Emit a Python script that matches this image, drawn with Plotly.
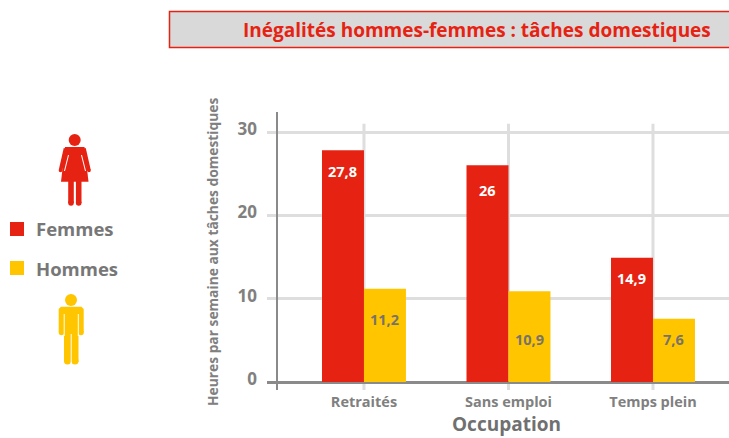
import plotly.graph_objects as go

categories = ["Retraités", "Sans emploi", "Temps plein"]
femmes = [27.8, 26, 14.9]
hommes = [11.2, 10.9, 7.6]
y_ticks = [0, 10, 20, 30]
title_text = "Inégalités hommes-femmes : tâches domestiques"
y_title = "Heures par semaine aux tâches domestiques"
x_title = "Occupation"

# label centres (layout, in axis units)
femmes_label_y = [25.3, 23.0, 12.4]
hommes_label_y = [7.55, 5.15, 5.15]

W, H = 729, 438
RED, YEL, GREY, TXT, GRID = "#E62312", "#FFC600", "#8A8A8A", "#808080", "#DEDEDE"
FONT = "Open Sans"

def px(x): return x / W
def py(y): return 1 - y / H
def path(points):
    return "M " + " L ".join(f"{px(x):.5f},{py(y):.5f}" for x, y in points) + " Z"
def seg(x0, y0, x1, y1, color, width):
    return dict(type="line", xref="paper", yref="paper", x0=px(x0), y0=py(y0), x1=px(x1), y1=py(y1),
                line=dict(color=color, width=width))
def poly(points, color):
    return dict(type="path", xref="paper", yref="paper", path=path(points), fillcolor=color, line=dict(width=0))
def disc(cx, cy, r, color):
    return dict(type="circle", xref="paper", yref="paper", x0=px(cx - r), x1=px(cx + r), y0=py(cy + r), y1=py(cy - r),
                fillcolor=color, line=dict(width=0))
def rect(x0, y0, x1, y1, color, line=None):
    return dict(type="rect", xref="paper", yref="paper", x0=px(x0), x1=px(x1), y0=py(y1), y1=py(y0),
                fillcolor=color, line=line or dict(width=0))

fig = go.Figure()
fig.add_bar(x=categories, y=femmes, name="Femmes", marker=dict(color=RED, line=dict(width=0)), hoverinfo="x+y")
fig.add_bar(x=categories, y=hommes, name="Hommes", marker=dict(color=YEL, line=dict(width=0)), hoverinfo="x+y")

def fmt(v):
    return f"{v:g}".replace(".", ",")

ann = []
for c, v, ly in zip(categories, femmes, femmes_label_y):
    ann.append(dict(x=c, y=ly, xref="x", yref="y", yanchor="middle", text=f"<b>{fmt(v)}</b>", showarrow=False, xshift=-21,
                    font=dict(family=FONT, size=14.5, color="white")))
for c, v, ly in zip(categories, hommes, hommes_label_y):
    ann.append(dict(x=c, y=ly, xref="x", yref="y", yanchor="middle", text=f"<b>{fmt(v)}</b>", showarrow=False, xshift=21,
                    font=dict(family=FONT, size=14.5, color="#77736A")))
ann += [
    dict(x=px(713), y=py(29.5), xref="paper", yref="paper", xanchor="right", yanchor="middle", text=f"<b>{title_text}</b>", showarrow=False,
         font=dict(family=FONT, size=19, color=RED)),
    dict(x=px(34), y=py(228.5), xref="paper", yref="paper", xanchor="left", yanchor="middle", text="<b>Femmes</b>", showarrow=False,
         font=dict(family=FONT, size=18.5, color="#777777")),
    dict(x=px(34), y=py(268), xref="paper", yref="paper", xanchor="left", yanchor="middle", text="<b>Hommes</b>", showarrow=False,
         font=dict(family=FONT, size=18.5, color="#777777")),
    dict(x=px(212), y=py(252), xref="paper", yref="paper", xanchor="center", yanchor="middle", text=f"<b>{y_title}</b>", textangle=-90, showarrow=False,
         font=dict(family=FONT, size=13.8, color=TXT)),
    dict(x=px(506), y=0, xref="paper", yref="paper", xanchor="center", yanchor="bottom", borderpad=0, text=f"<b>{x_title}</b>", showarrow=False,
         font=dict(family=FONT, size=19, color="#707070")),
]

shapes = [rect(169.5, 11.5, 735, 47.5, "#D9D9D9", dict(color=RED, width=1.5))]
for c in categories:
    shapes.append(dict(type="line", xref="x", yref="y", x0=c, x1=c, y0=-1, y1=31, layer="below",
                       line=dict(color=GRID, width=3)))
shapes.append(seg(277, 112, 277, 390, GREY, 2))
# legend swatches
shapes += [rect(10, 222, 24, 236, RED), rect(10, 261, 24, 275, YEL)]
# woman pictogram
shapes += [
    disc(74.7, 140, 6, RED),
    poly([(65, 147), (84.5, 147), (88.5, 181.7), (61, 181.7)], RED),
    seg(65.5, 148.5, 60.5, 170.5, RED, 3.6),
    seg(84, 148.5, 89, 170.5, RED, 3.6),
    seg(71, 181, 71, 203, RED, 5.6),
    seg(78.7, 181, 78.7, 203, RED, 5.6),
    disc(71, 203, 2.8, RED),
    disc(78.7, 203, 2.8, RED),
    disc(60.5, 170.5, 1.8, RED),
    disc(89, 170.5, 1.8, RED),
    seg(68.5, 155, 64.5, 171, "white", 1),
    seg(81.5, 155, 85.5, 171, "white", 1),
]
# man pictogram
shapes += [
    disc(71, 300, 6, YEL),
    poly([(61, 306.7), (81.5, 306.7), (83.7, 309), (83.7, 332), (78.5, 332), (78.5, 362), (64, 362), (64, 332), (58.7, 332), (58.7, 309)], YEL),
    disc(61.5, 332.5, 2.8, YEL),
    disc(81, 332.5, 2.8, YEL),
    disc(67.5, 361, 3.5, YEL),
    disc(75, 361, 3.5, YEL),
    seg(64.2, 314, 64.2, 336, "white", 1),
    seg(78.3, 314, 78.3, 336, "white", 1),
    seg(71.2, 334, 71.2, 366, "white", 1),
]

fig.update_layout(
    width=W, height=H, autosize=False, margin=dict(l=0, r=0, t=0, b=0),
    paper_bgcolor="white", plot_bgcolor="white",
    barmode="group", bargap=0.419, bargroupgap=0, showlegend=False,
    annotations=ann, shapes=shapes,
    xaxis=dict(domain=[px(267), 1], range=[-0.671, 2.526], type="category", showgrid=False, showline=False,
               ticks="", ticklabelstandoff=1, tickfont=dict(family=FONT, size=14.5, color=TXT, weight="bold")),
    yaxis=dict(domain=[py(390), py(112)], range=[-0.96, 32.4], tickvals=y_ticks, showgrid=True, gridcolor=GRID, gridwidth=3,
               zeroline=True, zerolinecolor=GREY, zerolinewidth=3, showline=False, ticks="", ticklabelstandoff=9,
               ticklabelshift=-3, tickfont=dict(family=FONT, size=17, color=TXT, weight="bold")),
)
fig.write_html("out.html", config=dict(displayModeBar=False),
               post_script="document.body.style.margin='0';document.documentElement.style.overflow='hidden';")
